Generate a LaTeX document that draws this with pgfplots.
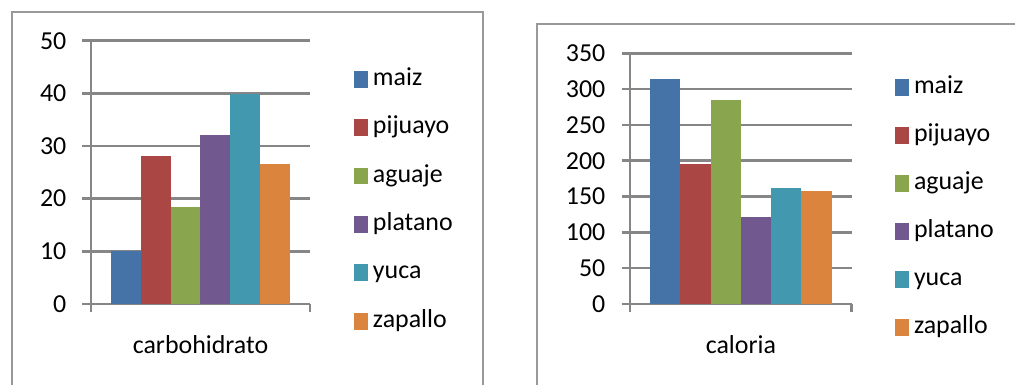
\documentclass[border=0pt]{standalone}
\usepackage{pgfplots}
\pgfplotsset{compat=1.18}
\usepackage{fontspec}
\setmainfont{Carlito}

\definecolor{maiz}{HTML}{4572A7}
\definecolor{pijuayo}{HTML}{AA4643}
\definecolor{aguaje}{HTML}{89A54E}
\definecolor{platano}{HTML}{71588F}
\definecolor{yuca}{HTML}{4198AF}
\definecolor{zapallo}{HTML}{DB843D}
\definecolor{gridgray}{HTML}{868686}
\definecolor{framegray}{HTML}{999999}

\newcommand\chartfont{\fontsize{26}{31}\selectfont}

\pgfplotsset{
  excelbar/.style={
    scale only axis, anchor=south west,
    ybar=0pt,
    xmin=-0.5, xmax=0.5, ymin=0,
    axis lines*=left,
    axis line style={gridgray, line width=2.6bp},
    tick align=outside, major tick length=8.5bp,
    tick style={gridgray, line width=2.6bp},
    ymajorgrids, grid style={gridgray, line width=2.6bp},
    xtick={-0.5,0.5}, xticklabels={},
    /pgf/number format/assume math mode=true,
    tick label style={font=\chartfont},
    yticklabel style={inner sep=0pt, xshift=-16bp},
    label style={font=\chartfont},
    xlabel style={at={(axis description cs:0.5,0)}, anchor=base,
      inner sep=0pt, yshift=-49bp},
    legend cell align=left,
    legend style={draw=none, fill=none, inner sep=0pt, outer sep=0pt,
      anchor=north west, font=\chartfont,
      nodes={inner sep=0pt, text height=18bp, text depth=6bp},
      /tikz/every odd column/.append style={column sep=5.3bp}},
    legend image code/.code={\fill[##1] (0bp,-8.35bp) rectangle (13.7bp,8.35bp);},
  }
}

\begin{document}
\begin{tikzpicture}
\useasboundingbox (0,0) rectangle (1015bp,385bp);

% chart frames
\draw[framegray, line width=2bp] (12bp,-10bp) -- (12bp,373.3bp) -- (482.7bp,373.3bp) -- (482.7bp,-10bp);
\draw[framegray, line width=2bp] (536.7bp,-10bp) -- (536.7bp,361bp) -- (1030bp,361bp);

% carbohidrato
\begin{axis}[excelbar, at={(91bp,81bp)}, width=219bp, height=263.3bp,
  ymax=50, ytick={0,10,...,50}, bar width=29.8bp,
  xlabel={carbohidrato},
  legend style={at={(axis description cs:1.2009,0.8993)}, row sep=24.4bp}]
\addplot[fill=maiz, draw=none]    coordinates {(0,10)};
\addplot[fill=pijuayo, draw=none] coordinates {(0,28.1)};
\addplot[fill=aguaje, draw=none]  coordinates {(0,18.4)};
\addplot[fill=platano, draw=none] coordinates {(0,32.1)};
\addplot[fill=yuca, draw=none]    coordinates {(0,39.9)};
\addplot[fill=zapallo, draw=none] coordinates {(0,26.6)};
\legend{maiz,pijuayo,aguaje,platano,yuca,zapallo}
\end{axis}

% caloria
\begin{axis}[excelbar, at={(630bp,81bp)}, width=221.7bp, height=250.7bp,
  ymax=350, ytick={0,50,...,350}, bar width=30.3bp,
  xlabel={caloria},
  legend style={at={(axis description cs:1.1953,0.9123)}, row sep=24bp}]
\addplot[fill=maiz, draw=none]    coordinates {(0,314)};
\addplot[fill=pijuayo, draw=none] coordinates {(0,195.5)};
\addplot[fill=aguaje, draw=none]  coordinates {(0,285)};
\addplot[fill=platano, draw=none] coordinates {(0,121.5)};
\addplot[fill=yuca, draw=none]    coordinates {(0,161.5)};
\addplot[fill=zapallo, draw=none] coordinates {(0,157.8)};
\legend{maiz,pijuayo,aguaje,platano,yuca,zapallo}
\end{axis}
\end{tikzpicture}
\end{document}
